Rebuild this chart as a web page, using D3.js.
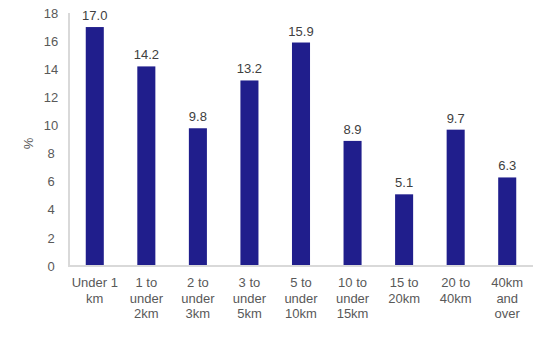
<!doctype html>
<html>
<head>
    <meta charset="utf-8"/>
    <style>
        html, body {
            margin: 0px;
            background: #fff;
        }
        svg {
            display: block;
            font-family: 'Liberation Sans', Arial, sans-serif;
        }
        .tick text {
            fill: #595959;
            font-size: 13px;
        }
    </style>
    <script src="https://d3js.org/d3.v7.min.js"></script>
</head>
<body>
<svg width="533" height="339"></svg>
<script>

    var categories = [
        ["Under 1", "km"],
        ["1 to", "under", "2km"],
        ["2 to", "under", "3km"],
        ["3 to", "under", "5km"],
        ["5 to", "under", "10km"],
        ["10 to", "under", "15km"],
        ["15 to", "20km"],
        ["20 to", "40km"],
        ["40km", "and", "over"]
    ];
    var values = [17.0, 14.2, 9.8, 13.2, 15.9, 8.9, 5.1, 9.7, 6.3];
    var yTicks = [0, 2, 4, 6, 8, 10, 12, 14, 16, 18];

    var svg = d3.select("svg");
    var margin = {top: 13, right: 0, bottom: 73, left: 69};
    var width = 533, height = 339;

    var x = d3.scaleBand()
        .domain(d3.range(categories.length))
        .range([margin.left, width - margin.right])
        .paddingInner(0.65)
        .paddingOuter(0.325);
    var y = d3.scaleLinear().domain([0, 18]).range([height - margin.bottom, margin.top]);

    // y axis (labels only, plus the light vertical line)
    var yAxis = svg.append("g")
        .attr("transform", "translate(" + margin.left + ",0)")
        .call(d3.axisLeft(y).tickValues(yTicks).tickSize(0).tickPadding(12));
    yAxis.select(".domain").remove();
    yAxis.selectAll("text").attr("text-anchor", "middle").attr("dx", "-6");

    svg.append("line")
        .attr("x1", margin.left).attr("x2", margin.left)
        .attr("y1", y(18)).attr("y2", y(0))
        .attr("stroke", "#d9d9d9").attr("stroke-width", 2);

    // bars
    svg.selectAll("rect.bar")
        .data(values)
        .enter().append("rect")
        .attr("class", "bar")
        .attr("x", function(d, i) { return x(i); })
        .attr("width", x.bandwidth())
        .attr("y", function(d) { return y(d); })
        .attr("height", function(d) { return y(0) - y(d); })
        .attr("fill", "#201e8c");

    // value labels
    svg.selectAll("text.val")
        .data(values)
        .enter().append("text")
        .attr("class", "val")
        .attr("x", function(d, i) { return x(i) + x.bandwidth() / 2; })
        .attr("y", function(d) { return y(d) - 7; })
        .attr("text-anchor", "middle")
        .attr("fill", "#404040")
        .style("font-size", "13px")
        .text(function(d) { return d.toFixed(1); });

    // x axis baseline
    svg.append("line")
        .attr("x1", margin.left - 1).attr("x2", width)
        .attr("y1", y(0)).attr("y2", y(0))
        .attr("stroke", "#d9d9d9").attr("stroke-width", 2);

    // category labels
    var xAxis = svg.append("g")
        .attr("transform", "translate(0," + y(0) + ")")
        .call(d3.axisBottom(x).tickSize(0).tickFormat(""));
    xAxis.select(".domain").remove();
    xAxis.selectAll(".tick").append("text")
        .attr("fill", "#595959")
        .style("font-size", "13px")
        .attr("text-anchor", "middle")
        .selectAll("tspan")
        .data(function(d) { return categories[d]; })
        .enter().append("tspan")
        .attr("x", 0)
        .attr("y", function(d, i) { return 21 + i * 15.5; })
        .text(function(d) { return d; });

    // y label
    svg.append("text")
        .attr("transform", "translate(33," + (y(9) + 4) + ") rotate(-90)")
        .attr("text-anchor", "middle")
        .attr("fill", "#595959")
        .style("font-size", "13px")
        .text("%");

</script>
</body>
</html>
